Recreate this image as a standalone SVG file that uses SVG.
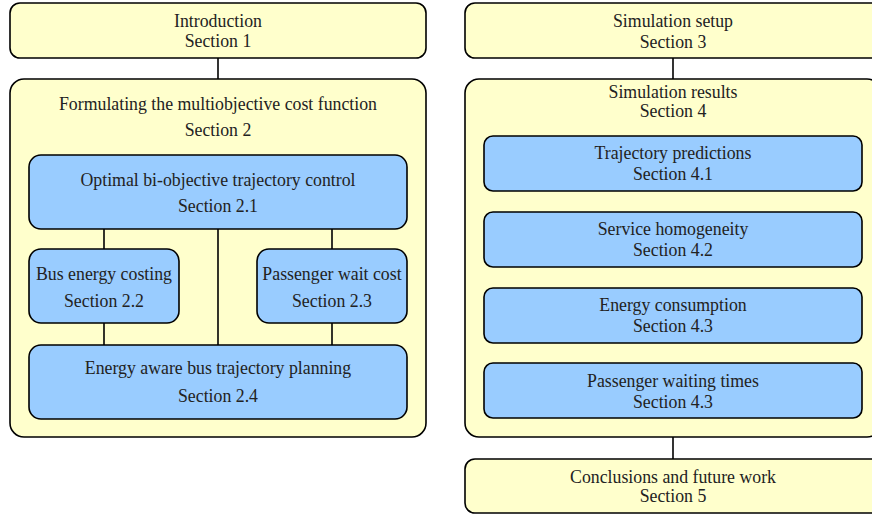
<svg xmlns="http://www.w3.org/2000/svg" width="872" height="515" viewBox="0 0 872 515">
<style>
.y{fill:#FFFFCC;stroke:#000;stroke-width:1.6}
.b{fill:#99CCFF;stroke:#000;stroke-width:1.6}
text{font-family:"Liberation Serif","Times New Roman",serif;font-size:17.8px;fill:#222;text-anchor:middle;dominant-baseline:central}
.c line{stroke:#000;stroke-width:1.6}
</style>
<g id="intro"><rect class="y" x="10" y="3" width="416" height="55" rx="10"/><text x="218" y="21">Introduction</text><text x="218" y="41">Section 1</text></g>
<g id="sec2"><rect class="y" x="10" y="79" width="416" height="358" rx="14"/><text x="218" y="104">Formulating the multiobjective cost function</text><text x="218" y="130">Section 2</text></g>
<g id="sec3"><rect class="y" x="465" y="3" width="416" height="55" rx="10"/><text x="673" y="21">Simulation setup</text><text x="673" y="42">Section 3</text></g>
<g id="sec4"><rect class="y" x="465" y="79" width="416" height="358" rx="14"/><text x="673" y="92">Simulation results</text><text x="673" y="111">Section 4</text></g>
<g class="c" id="connectors">
<line x1="218" y1="58" x2="218" y2="79"/>
<line x1="104" y1="229" x2="104" y2="249"/>
<line x1="332" y1="229" x2="332" y2="249"/>
<line x1="218" y1="229" x2="218" y2="345"/>
<line x1="104" y1="323" x2="104" y2="345"/>
<line x1="332" y1="323" x2="332" y2="345"/>
<line x1="673" y1="58" x2="673" y2="79"/>
<line x1="673" y1="437" x2="673" y2="459"/>
</g>
<g id="sec21"><rect class="b" x="29" y="155" width="378" height="74" rx="12"/><text x="218" y="180">Optimal bi-objective trajectory control</text><text x="218" y="206">Section 2.1</text></g>
<g id="sec22"><rect class="b" x="29" y="249" width="150" height="74" rx="12"/><text x="104" y="274">Bus energy costing</text><text x="104" y="301">Section 2.2</text></g>
<g id="sec23"><rect class="b" x="257" y="249" width="150" height="74" rx="12"/><text x="332" y="274">Passenger wait cost</text><text x="332" y="301">Section 2.3</text></g>
<g id="sec24"><rect class="b" x="29" y="345" width="378" height="74" rx="12"/><text x="218" y="368">Energy aware bus trajectory planning</text><text x="218" y="396">Section 2.4</text></g>
<g id="sec41"><rect class="b" x="484" y="136" width="378" height="55" rx="9"/><text x="673" y="153">Trajectory predictions</text><text x="673" y="174">Section 4.1</text></g>
<g id="sec42"><rect class="b" x="484" y="212" width="378" height="55" rx="9"/><text x="673" y="229">Service homogeneity</text><text x="673" y="250">Section 4.2</text></g>
<g id="sec43"><rect class="b" x="484" y="288" width="378" height="55" rx="9"/><text x="673" y="305">Energy consumption</text><text x="673" y="326">Section 4.3</text></g>
<g id="sec43b"><rect class="b" x="484" y="363" width="378" height="55" rx="9"/><text x="673" y="381">Passenger waiting times</text><text x="673" y="402">Section 4.3</text></g>
<g id="sec5"><rect class="y" x="465" y="459" width="416" height="54" rx="10"/><text x="673" y="477">Conclusions and future work</text><text x="673" y="496">Section 5</text></g>
</svg>
